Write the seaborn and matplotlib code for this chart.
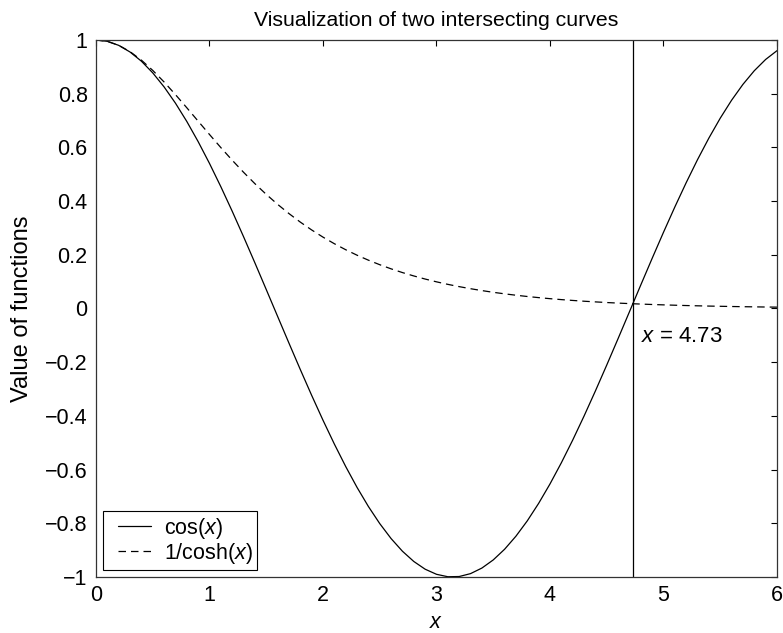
import numpy as np
import pandas as pd
import matplotlib
matplotlib.use("Agg")
import matplotlib.pyplot as plt
from matplotlib.lines import Line2D
from matplotlib.legend_handler import HandlerLine2D
import seaborn as sns

# sample points (step 0.1)
x_vals = [0.0, 0.1, 0.2, 0.3, 0.4, 0.5, 0.6, 0.7, 0.8, 0.9,
          1.0, 1.1, 1.2, 1.3, 1.4, 1.5, 1.6, 1.7, 1.8, 1.9,
          2.0, 2.1, 2.2, 2.3, 2.4, 2.5, 2.6, 2.7, 2.8, 2.9,
          3.0, 3.1, 3.2, 3.3, 3.4, 3.5, 3.6, 3.7, 3.8, 3.9,
          4.0, 4.1, 4.2, 4.3, 4.4, 4.5, 4.6, 4.7, 4.8, 4.9,
          5.0, 5.1, 5.2, 5.3, 5.4, 5.5, 5.6, 5.7, 5.8, 5.9, 6.0]
cos_vals = [1.0000, 0.9950, 0.9801, 0.9553, 0.9211, 0.8776, 0.8253, 0.7648, 0.6967, 0.6216,
            0.5403, 0.4536, 0.3624, 0.2675, 0.1700, 0.0707, -0.0292, -0.1288, -0.2272, -0.3233,
            -0.4161, -0.5048, -0.5885, -0.6663, -0.7374, -0.8011, -0.8569, -0.9041, -0.9422, -0.9710,
            -0.9900, -0.9991, -0.9983, -0.9875, -0.9668, -0.9365, -0.8968, -0.8481, -0.7910, -0.7259,
            -0.6536, -0.5748, -0.4903, -0.4008, -0.3073, -0.2108, -0.1122, -0.0124, 0.0875, 0.1865,
            0.2837, 0.3780, 0.4685, 0.5544, 0.6347, 0.7087, 0.7756, 0.8347, 0.8855, 0.9275, 0.9602]
sech_vals = [1.0000, 0.9950, 0.9803, 0.9566, 0.9250, 0.8868, 0.8436, 0.7967, 0.7477, 0.6978,
             0.6481, 0.5993, 0.5523, 0.5074, 0.4649, 0.4251, 0.3880, 0.3536, 0.3218, 0.2926,
             0.2658, 0.2413, 0.2189, 0.1985, 0.1800, 0.1631, 0.1477, 0.1338, 0.1212, 0.1097,
             0.0993, 0.0899, 0.0814, 0.0737, 0.0667, 0.0603, 0.0546, 0.0494, 0.0447, 0.0405,
             0.0366, 0.0331, 0.0300, 0.0271, 0.0246, 0.0222, 0.0201, 0.0182, 0.0165, 0.0149,
             0.0135, 0.0122, 0.0110, 0.0100, 0.0090, 0.0082, 0.0074, 0.0067, 0.0061, 0.0055, 0.0050]
labels = ["cos($x$)", "1/cosh($x$)"]
x_cross = 4.73
x_ticks = [0, 1, 2, 3, 4, 5, 6]
y_ticks = [-1, -0.8, -0.6, -0.4, -0.2, 0, 0.2, 0.4, 0.6, 0.8, 1]
y_ticklabels = ["\u22121", "\u22120.8", "\u22120.6", "\u22120.4", "\u22120.2", "0",
                "0.2", "0.4", "0.6", "0.8", "1"]

df = pd.DataFrame({
    "x": x_vals * 2,
    "y": cos_vals + sech_vals,
    "curve": [labels[0]] * len(x_vals) + [labels[1]] * len(x_vals),
})

sns.set_style("white")
plt.rcParams["font.family"] = ["Liberation Sans", "DejaVu Sans"]
plt.rcParams["mathtext.fontset"] = "custom"
plt.rcParams["mathtext.rm"] = "Liberation Sans"
plt.rcParams["mathtext.it"] = "Liberation Sans:italic"
plt.rcParams["text.color"] = "black"
plt.rcParams["axes.labelcolor"] = "black"

fig = plt.figure(figsize=(7.83, 6.33), dpi=100)
ax = fig.add_axes([0.1226, 0.0885, 0.8697, 0.8483])

sns.lineplot(data=df, x="x", y="y", style="curve", color="black", linewidth=0.9,
             dashes={labels[0]: "", labels[1]: (6, 4)}, ax=ax, sort=False)

# vertical marker at the intersection
ax.axvline(x_cross, color="black", linewidth=0.9)
ax.text(4.80, -0.104, "$x$ = %.2f" % x_cross, fontsize=16, va="center", ha="left")

ax.set_xlim(0, 6)
ax.set_ylim(-1, 1)
ax.set_xticks(x_ticks)
ax.set_yticks(y_ticks)
ax.set_yticklabels(y_ticklabels)
ax.tick_params(direction="in", top=True, right=True, length=4.5, width=0.8,
               labelsize=15.5, colors="black", pad=6)
for s in ax.spines.values():
    s.set_color("#333333")
    s.set_linewidth(0.9)

ax.set_title("Visualization of two intersecting curves", fontsize=15.3, pad=10)
ax.set_xlabel("$x$", fontsize=15.5, labelpad=4)
ax.set_ylabel("Value of functions", fontsize=17, labelpad=9)

leg = ax.legend(loc="lower left", fontsize=15.5, frameon=True, fancybox=False,
                edgecolor="black", borderaxespad=0.33, handlelength=2.02,
                borderpad=0.2, labelspacing=0.0, handletextpad=0.6,
                handler_map={Line2D: HandlerLine2D(xpad=0.5)})
leg.get_frame().set_linewidth(0.8)
leg.get_frame().set_alpha(1)

fig.savefig("out.png", dpi=100)
